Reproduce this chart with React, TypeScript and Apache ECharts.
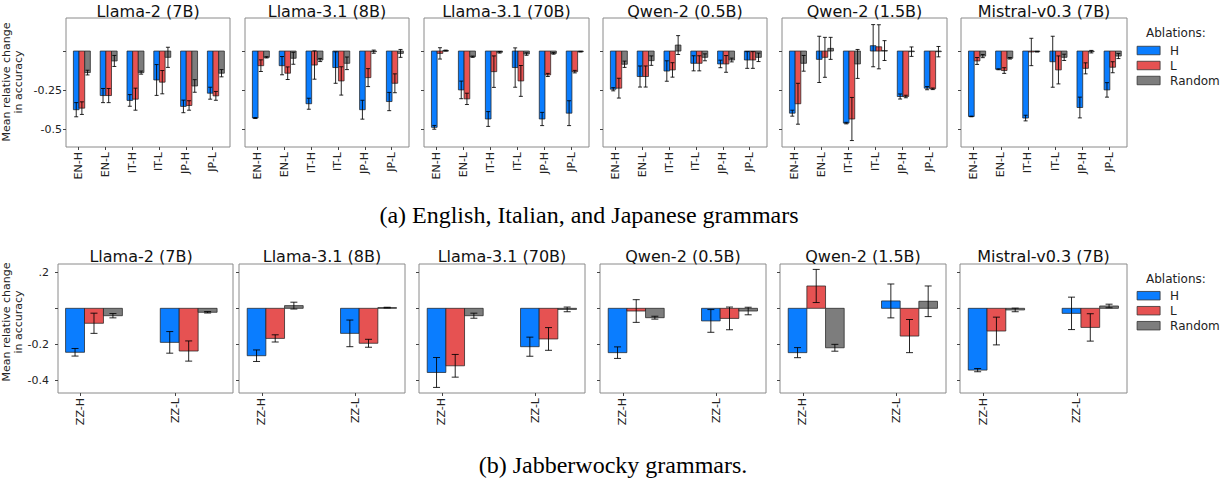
import React, { useEffect, useRef } from "react";
import * as echarts from "echarts";

// ---------- data ----------
const models = ["Llama-2 (7B)", "Llama-3.1 (8B)", "Llama-3.1 (70B)", "Qwen-2 (0.5B)", "Qwen-2 (1.5B)", "Mistral-v0.3 (7B)"];
const topCategories = ["EN-H", "EN-L", "IT-H", "IT-L", "JP-H", "JP-L"];
const bottomCategories = ["ZZ-H", "ZZ-L"];
const ablations = ["H", "L", "Random"];

// top row (per model, per category)
const topH = [
  [-0.373, -0.283, -0.314, -0.184, -0.352, -0.268],
  [-0.426, -0.093, -0.335, -0.105, -0.373, -0.321],
  [-0.485, -0.247, -0.432, -0.105, -0.432, -0.395],
  [-0.243, -0.162, -0.127, -0.078, -0.082, -0.057],
  [-0.395, -0.053, -0.458, 0.034, -0.289, -0.236],
  [-0.416, -0.116, -0.426, -0.068, -0.359, -0.247],
];
const topHErr = [
  [0.045, 0.045, 0.037, 0.098, 0.04, 0.038],
  [0.003, 0.058, 0.035, 0.1, 0.06, 0.058],
  [0.012, 0.056, 0.047, 0.125, 0.042, 0.079],
  [0.01, 0.067, 0.065, 0.048, 0.024, 0.053],
  [0.019, 0.147, 0.005, 0.134, 0.016, 0.01],
  [0.002, 0.003, 0.018, 0.162, 0.066, 0.046],
];
const topL = [
  [-0.363, -0.283, -0.306, -0.198, -0.346, -0.285],
  [-0.093, -0.141, -0.089, -0.19, -0.169, -0.205],
  [-0.015, -0.304, -0.131, -0.19, -0.152, -0.131],
  [-0.236, -0.162, -0.12, -0.078, -0.082, -0.057],
  [-0.335, -0.04, -0.432, 0.027, -0.289, -0.24],
  [-0.063, -0.124, -0.006, -0.12, -0.11, -0.103],
];
const topLErr = [
  [0.04, 0.045, 0.07, 0.074, 0.03, 0.028],
  [0.037, 0.04, 0.09, 0.09, 0.057, 0.06],
  [0.036, 0.036, 0.1, 0.098, 0.01, 0.008],
  [0.063, 0.067, 0.046, 0.048, 0.053, 0.053],
  [0.13, 0.127, 0.137, 0.14, 0.008, 0.005],
  [0.022, 0.018, 0.087, 0.089, 0.035, 0.035],
];
const topRandom = [
  [-0.137, -0.063, -0.137, -0.04, -0.222, -0.141],
  [-0.04, -0.046, -0.057, -0.078, -0.004, -0.015],
  [0.003, -0.036, -0.008, -0.019, -0.015, -0.004],
  [-0.084, -0.061, 0.038, -0.04, -0.057, -0.04],
  [-0.078, 0.017, -0.082, 0.003, -0.004, -0.004],
  [-0.032, -0.046, -0.004, -0.04, -0.004, -0.032],
];
const topRandomErr = [
  [0.015, 0.035, 0.01, 0.064, 0.04, 0.023],
  [0.004, 0.038, 0.01, 0.04, 0.01, 0.025],
  [0.003, 0.004, 0.005, 0.008, 0.005, 0.002],
  [0.02, 0.03, 0.06, 0.022, 0.012, 0.027],
  [0.05, 0.07, 0.092, 0.063, 0.03, 0.033],
  [0.01, 0.005, 0.002, 0.02, 0.008, 0.016],
];

// bottom row (per model, per category)
const botH = [[-0.244, -0.189], [-0.263, -0.139], [-0.356, -0.213], [-0.246, -0.07], [-0.246, 0.041], [-0.343, -0.028]];
const botHErr = [[0.021, 0.06], [0.032, 0.074], [0.083, 0.053], [0.032, 0.063], [0.028, 0.094], [0.009, 0.09]];
const botL = [[-0.083, -0.237], [-0.167, -0.194], [-0.319, -0.17], [-0.015, -0.056], [0.124, -0.154], [-0.126, -0.106]];
const botLErr = [[0.056, 0.056], [0.02, 0.022], [0.063, 0.063], [0.063, 0.063], [0.092, 0.092], [0.077, 0.076]];
const botRandom = [[-0.041, -0.022], [0.015, 0.004], [-0.041, -0.006], [-0.052, -0.015], [-0.219, 0.039], [-0.009, 0.013]];
const botRandomErr = [[0.012, 0.004], [0.019, 0.002], [0.014, 0.013], [0.008, 0.021], [0.019, 0.085], [0.01, 0.01]];

const topYTicks = [-0.5, -0.25, 0];
const topYLabels = [-0.5, -0.25];
const botYTicks = [-0.4, -0.2, 0, 0.2];
const botYLabels = [-0.4, -0.2, 0.2];

const captionA = "(a) English, Italian, and Japanese grammars";
const captionB = "(b) Jabberwocky grammars.";
const yAxisName = "Mean relative change\nin accuracy";
const legendTitle = "Ablations:";

// ---------- styling / layout ----------
const COLORS: Record<string, string> = { H: "#0a7dff", L: "#e65252", Random: "#7d7d7d" };
const FONT = "DejaVu Sans";

const rows = [
  {
    cats: topCategories,
    vals: [topH, topL, topRandom],
    errs: [topHErr, topLErr, topRandomErr],
    lefts: [66, 245, 424, 603, 782, 961],
    widths: [164, 164, 165, 164, 165, 166],
    xMin: [-0.47, -0.47, -0.47, -0.47, -0.47, -0.47],
    xMax: [5.65, 5.65, 5.65, 5.65, 5.65, 5.65],
    top: 18,
    height: 129,
    yMin: -0.61,
    yMax: 0.21,
    ticks: topYTicks,
    labels: topYLabels,
    barLeft: -0.194,
    barW: 0.211,
    cap: 2,
    titleY: 11,
    titleX: [148, 327, 506.5, 685, 864.5, 1044],
    labelMargin: 4,
  },
  {
    cats: bottomCategories,
    vals: [botH, botL, botRandom],
    errs: [botHErr, botLErr, botRandomErr],
    lefts: [58, 239, 419, 600, 780, 960],
    widths: [175, 166, 166, 166, 166, 167],
    xMin: [-0.238, -0.246, -0.246, -0.246, -0.246, -0.246],
    xMax: [1.61, 1.533, 1.533, 1.533, 1.533, 1.533],
    top: 264,
    height: 129,
    yMin: -0.47,
    yMax: 0.246,
    ticks: botYTicks,
    labels: botYLabels,
    barLeft: -0.158,
    barW: 0.2,
    cap: 3.5,
    titleY: 256,
    titleX: [141, 322, 502, 683, 863, 1043.5],
    labelMargin: 9,
  },
];

function buildOption() {
  const grid: any[] = [];
  const xAxis: any[] = [];
  const yAxis: any[] = [];
  const series: any[] = [];
  const graphic: any[] = [];

  rows.forEach((row, r) => {
    models.forEach((model, p) => {
      const g = r * 6 + p;
      grid.push({
        left: row.lefts[p],
        top: row.top,
        width: row.widths[p],
        height: row.height,
        show: true,
        borderColor: "#8a8a8a",
        borderWidth: 1,
        backgroundColor: "transparent",
      });
      const catIdx = row.cats.map((_, i) => i);
      xAxis.push({
        gridIndex: g,
        type: "value",
        position: "bottom",
        min: row.xMin[p],
        max: row.xMax[p],
        axisLine: { show: false, onZero: false },
        splitLine: { show: false },
        axisTick: { show: true, customValues: catIdx, length: 3, lineStyle: { color: "#444" } },
        axisLabel: {
          customValues: catIdx,
          formatter: (v: number) => row.cats[Math.round(v)] ?? "",
          rotate: 90,
          fontSize: 11,
          fontFamily: FONT,
          color: "#222",
          margin: 5,
        },
      });
      yAxis.push({
        gridIndex: g,
        type: "value",
        position: "left",
        min: row.yMin,
        max: row.yMax,
        axisLine: { show: false, onZero: false },
        splitLine: { show: false },
        axisTick: { show: true, customValues: row.ticks, length: 3, lineStyle: { color: "#444" } },
        axisLabel:
          p === 0
            ? {
                customValues: row.labels,
                formatter: (v: number) => (Math.abs(v - 0.2) < 1e-9 ? ".2" : String(v)),
                fontSize: 11,
                fontFamily: FONT,
                color: "#222",
                margin: row.labelMargin,
              }
            : { show: false },
      });

      ablations.forEach((ab, k) => {
        const color = COLORS[ab];
        series.push({
          type: "custom",
          name: ab,
          xAxisIndex: g,
          yAxisIndex: g,
          itemStyle: { color, borderColor: "#333", borderWidth: 0.8 },
          encode: { x: 0, y: 1 },
          data: row.cats.map((_, i) => [i, row.vals[k][p][i], row.errs[k][p][i]]),
          renderItem: (params: any, api: any) => {
            const i = api.value(0);
            const v = api.value(1);
            const e = api.value(2);
            const x0 = i + row.barLeft + k * row.barW;
            const x1 = x0 + row.barW;
            const pa = api.coord([x0, 0]);
            const pb = api.coord([x1, v]);
            const xc = (pa[0] + pb[0]) / 2;
            const lo = api.coord([x0, v - e])[1];
            const hi = api.coord([x0, v + e])[1];
            const es = { stroke: "rgba(0,0,0,0.85)", lineWidth: 1 };
            const cap = row.cap;
            return {
              type: "group",
              children: [
                {
                  type: "rect",
                  z2: 1,
                  shape: {
                    x: pa[0],
                    y: Math.min(pa[1], pb[1]),
                    width: pb[0] - pa[0],
                    height: Math.max(Math.abs(pb[1] - pa[1]), 0.5),
                  },
                  style: { fill: color, stroke: "rgba(30,30,30,0.9)", lineWidth: 0.8 },
                },
                { type: "line", z2: 10, shape: { x1: xc, y1: lo, x2: xc, y2: hi }, style: es },
                { type: "line", z2: 10, shape: { x1: xc - cap, y1: lo, x2: xc + cap, y2: lo }, style: es },
                { type: "line", z2: 10, shape: { x1: xc - cap, y1: hi, x2: xc + cap, y2: hi }, style: es },
              ],
            };
          },
        });
      });

      graphic.push({
        type: "text",
        x: row.titleX[p],
        y: row.titleY,
        style: {
          text: model,
          fill: "#111",
          font: `16px "${FONT}"`,
          align: "center",
          verticalAlign: "middle",
        },
      });
    });
  });

  // y axis names
  [
    { x: 12.5, y: 82 },
    { x: 12.5, y: 322 },
  ].forEach((pos) => {
    graphic.push({
      type: "text",
      x: pos.x,
      y: pos.y,
      rotation: Math.PI / 2,
      style: {
        text: yAxisName,
        fill: "#222",
        font: `11px "${FONT}"`,
        lineHeight: 12.5,
        align: "center",
        verticalAlign: "middle",
      },
    });
  });

  // legend titles
  [33.3, 279.3].forEach((y) => {
    graphic.push({
      type: "text",
      x: 1146,
      y,
      style: { text: legendTitle, fill: "#222", font: `12px "${FONT}"`, align: "left", verticalAlign: "middle" },
    });
  });

  // captions
  graphic.push({
    type: "text",
    x: 589,
    y: 215,
    style: { text: captionA, fill: "#000", font: `24px "Liberation Serif"`, align: "center", verticalAlign: "middle" },
  });
  graphic.push({
    type: "text",
    x: 613,
    y: 465,
    style: { text: captionB, fill: "#000", font: `24px "Liberation Serif"`, align: "center", verticalAlign: "middle" },
  });

  const legendBase = (top: number) => ({
    data: ablations.map((n) => ({
      name: n,
      itemStyle: { color: COLORS[n], borderColor: "#333", borderWidth: 0.8 },
    })),
    orient: "vertical",
    left: 1136.7,
    top,
    itemWidth: 23,
    itemHeight: 8.5,
    itemGap: 3,
    padding: 0,
    icon: "rect",
    selectedMode: false,
    textStyle: { fontSize: 12, fontFamily: FONT, color: "#222", padding: [0, 0, 0, 5] },
  });

  return {
    animation: false,
    backgroundColor: "#fff",
    grid,
    xAxis,
    yAxis,
    series,
    graphic,
    legend: [legendBase(44.5), legendBase(289.7)],
  };
}

export default function App() {
  const ref = useRef<HTMLDivElement>(null);
  useEffect(() => {
    const chart = echarts.init(ref.current!, null, { renderer: "svg" });
    chart.setOption(buildOption() as any);
    return () => chart.dispose();
  }, []);
  return <div ref={ref} style={{ position: "absolute", left: 0, top: 0, width: 1230, height: 485 }} />;
}
